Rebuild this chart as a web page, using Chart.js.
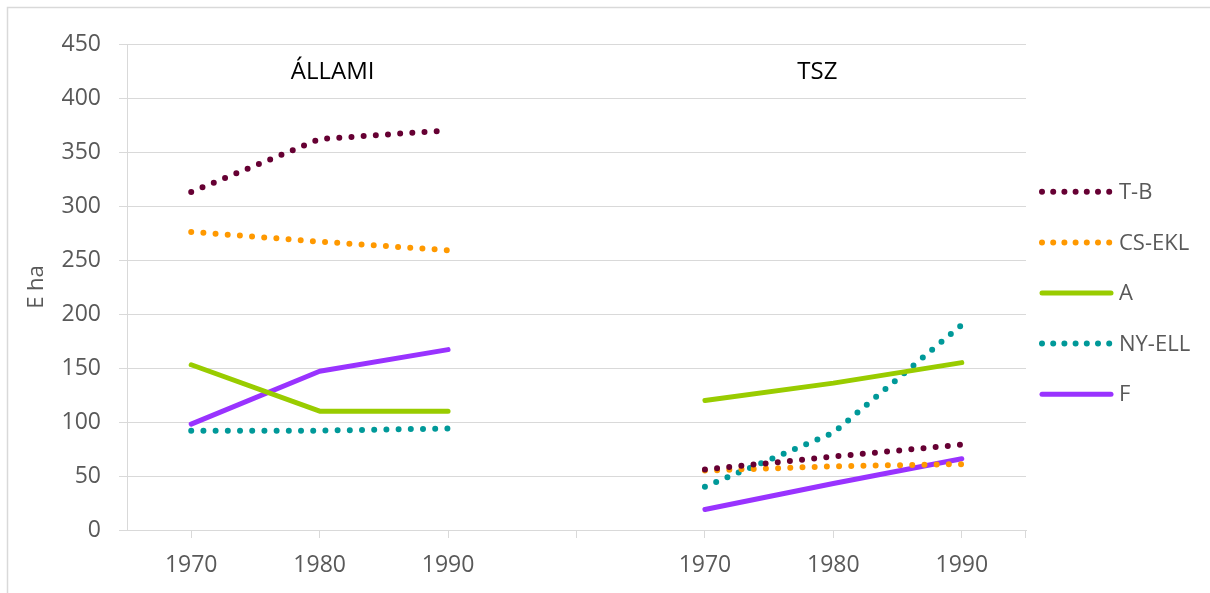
<!DOCTYPE html>
<html>
<head>
<meta charset="utf-8">
<script src="https://cdn.jsdelivr.net/npm/chart.js@4.4.0/dist/chart.umd.min.js"></script>
<style>
  html, body { margin: 0; padding: 0; background: #fff; }
  #wrap { width: 1210px; height: 593px; }
</style>
</head>
<body>
<div id="wrap"><canvas id="c"></canvas></div>
<script>
// categories: two panels (ÁLLAMI, TSZ) separated by an empty slot
const years = ['1970', '1980', '1990', '', '1970', '1980', '1990'];
const panelTitles = ['ÁLLAMI', 'TSZ'];

const tB     = [313, 362, 370, null, 56, 68, 79];
const csEkl  = [276, 267, 259, null, 55, 59, 61];
const aVals  = [153, 110, 110, null, 120, 136, 155];
const nyEll  = [92, 92, 94, null, 40, 90, 190];
const fVals  = [98, 147, 167, null, 19, 43, 66];

const yTicks = [0, 50, 100, 150, 200, 250, 300, 350, 400, 450];

const GRID = '#d9d9d9';
const TXT = '#595959';
const FONT = '"Open Sans", sans-serif';
const DOT = [0, 12.2];

function series(label, data, color, dotted) {
  return {
    label: label,
    data: data,
    borderColor: color,
    backgroundColor: color,
    borderWidth: dotted ? 6 : 5,
    borderDash: dotted ? DOT : [],
    borderCapStyle: 'round',
    borderJoinStyle: 'round',
    pointRadius: 0,
    pointHoverRadius: 0,
    tension: 0,
    fill: false
  };
}

// panel titles, outer frame, right edge tick and the legend
const extras = {
  id: 'extras',
  afterDraw(chart) {
    const ctx = chart.ctx;
    const x = chart.scales.x;
    const area = chart.chartArea;
    ctx.save();
    ctx.fillStyle = '#000';
    ctx.font = '24px ' + FONT;
    ctx.textAlign = 'center';
    ctx.textBaseline = 'alphabetic';
    ctx.fillText(panelTitles[0], x.getPixelForValue(1) + 13, area.top + 35);
    ctx.fillText(panelTitles[1], x.getPixelForValue(5) - 16, area.top + 35);

    ctx.strokeStyle = GRID;
    ctx.lineWidth = 1;
    ctx.beginPath();
    ctx.moveTo(Math.round(area.right) - 0.5, area.bottom);
    ctx.lineTo(Math.round(area.right) - 0.5, area.bottom + 8);
    ctx.stroke();

    ctx.lineWidth = 1.5;
    ctx.strokeRect(7.5, 7.5, chart.width + 20, chart.height + 20);

    // legend
    const sets = chart.data.datasets;
    const step = 50.6;
    const cy = (area.top + area.bottom) / 2 + 6 - step * (sets.length - 1) / 2;
    const x0 = area.right + 16;
    sets.forEach((ds, i) => {
      const y = cy + i * step;
      ctx.beginPath();
      ctx.strokeStyle = ds.borderColor;
      ctx.lineWidth = ds.borderWidth;
      ctx.lineCap = 'round';
      ctx.setLineDash(ds.borderDash.length ? [0, 11.2] : []);
      ctx.moveTo(x0, y);
      ctx.lineTo(x0 + 69, y);
      ctx.stroke();
      ctx.setLineDash([]);
      ctx.fillStyle = TXT;
      ctx.font = '22px ' + FONT;
      ctx.textAlign = 'left';
      ctx.textBaseline = 'middle';
      ctx.fillText(ds.label, x0 + 77, y + 1);
    });
    ctx.restore();
  }
};

new Chart(document.getElementById('c'), {
  type: 'line',
  data: {
    labels: years,
    datasets: [
      series('T-B', tB, '#660033', true),
      series('CS-EKL', csEkl, '#ff9900', true),
      series('A', aVals, '#99cc00', false),
      series('NY-ELL', nyEll, '#009999', true),
      series('F', fVals, '#9933ff', false)
    ]
  },
  options: {
    responsive: true,
    maintainAspectRatio: false,
    animation: false,
    layout: { padding: { top: 44, right: 184, bottom: 8, left: 14 } },
    plugins: {
      legend: { display: false },
      tooltip: { enabled: false }
    },
    scales: {
      x: {
        offset: true,
        afterFit: (s) => { s.height = 55; },
        grid: { display: true, drawOnChartArea: false, drawTicks: true, tickLength: 8, color: GRID, offset: false },
        border: { display: true, color: GRID, width: 1 },
        ticks: { color: TXT, font: { family: FONT, size: 23 }, padding: 14, maxRotation: 0, autoSkip: false }
      },
      y: {
        min: 0,
        max: 450,
        afterFit: (s) => { s.width = 113; },
        afterBuildTicks: (s) => { s.ticks = yTicks.map(v => ({ value: v })); },
        grid: { color: GRID, tickLength: 8, drawTicks: true },
        border: { display: true, color: GRID, width: 1 },
        ticks: { color: TXT, font: { family: FONT, size: 23 }, padding: 18 },
        title: { display: true, text: 'E ha', color: TXT, font: { family: FONT, size: 22 }, padding: { top: 10, bottom: 0 } }
      }
    }
  },
  plugins: [extras]
});
</script>
</body>
</html>
